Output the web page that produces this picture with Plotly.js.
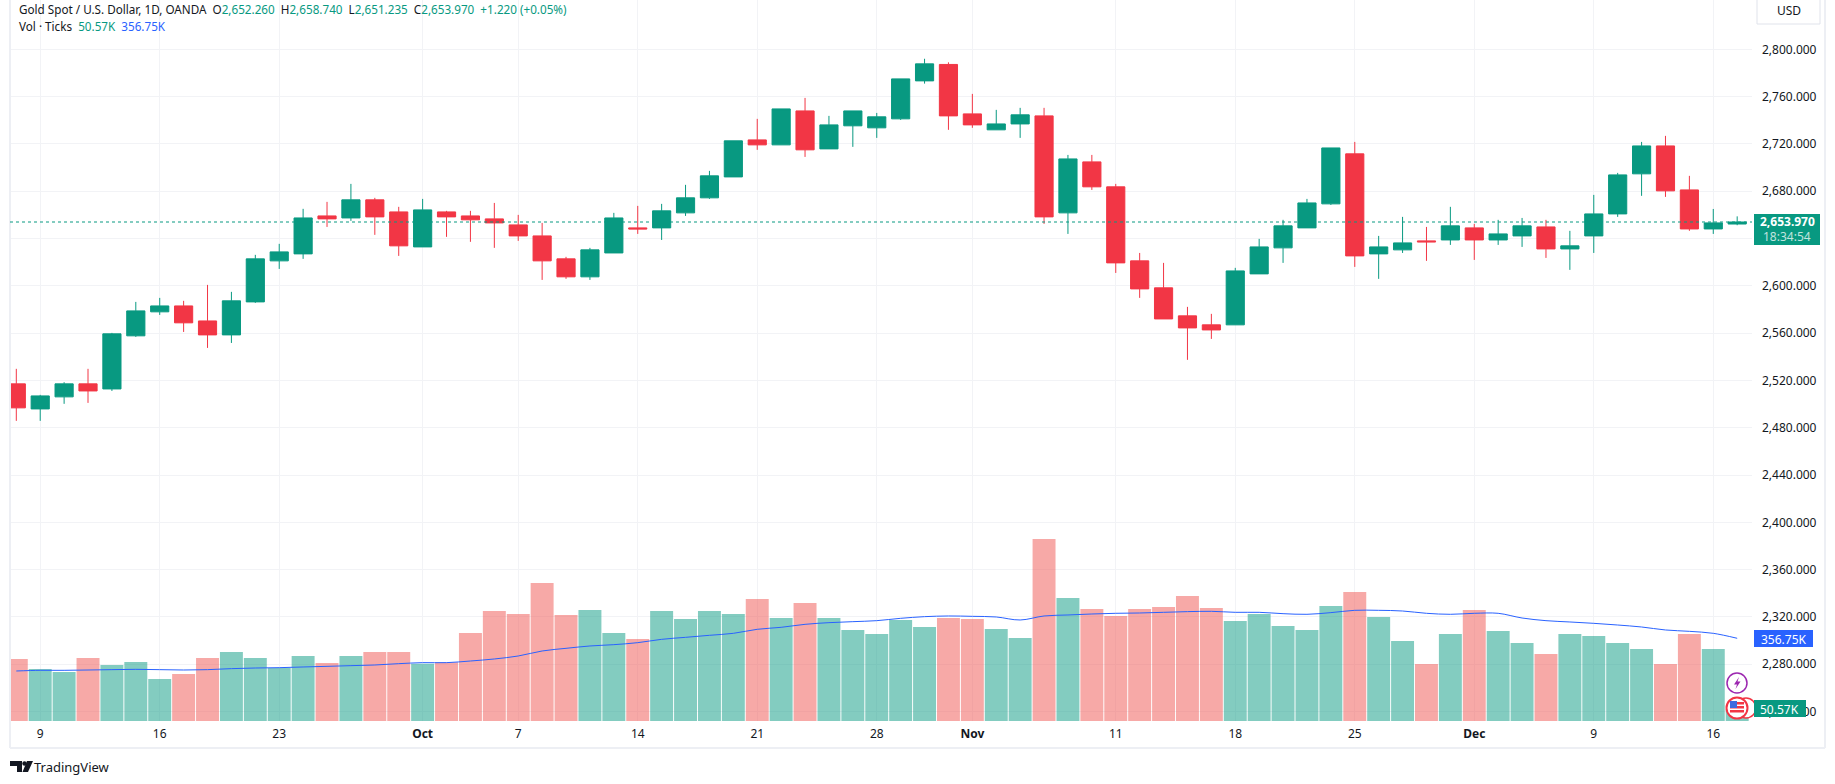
<!DOCTYPE html>
<html>
<head>
<meta charset="utf-8">
<script src="https://cdn.plot.ly/plotly-3.0.1.min.js"></script>
<style>
  html, body { margin: 0; padding: 0; background: #fff; }
  #chart { width: 1835px; height: 784px; }
</style>
</head>
<body>
<div id="chart"></div>
<script>
// trading days, 6 Sep to 17 Dec 2024
const days = [
  "09-06",
  "09-09","09-10","09-11","09-12","09-13",
  "09-16","09-17","09-18","09-19","09-20",
  "09-23","09-24","09-25","09-26","09-27",
  "09-30","10-01","10-02","10-03","10-04",
  "10-07","10-08","10-09","10-10","10-11",
  "10-14","10-15","10-16","10-17","10-18",
  "10-21","10-22","10-23","10-24","10-25",
  "10-28","10-29","10-30","10-31","11-01",
  "11-04","11-05","11-06","11-07","11-08",
  "11-11","11-12","11-13","11-14","11-15",
  "11-18","11-19","11-20","11-21","11-22",
  "11-25","11-26","11-27","11-28","11-29",
  "12-02","12-03","12-04","12-05","12-06",
  "12-09","12-10","12-11","12-12","12-13",
  "12-16","12-17"
];
const opens = [
  2517.1,2495.9,2506.1,2517.1,2512.8,2557.7,2578,2583,2570.3,2558.5,
  2586.4,2621.1,2627,2659.1,2657.4,2672.7,2662.5,2632.9,2662.5,2659.1,
  2656.6,2651.5,2642.2,2622.8,2607.6,2627.8,2649,2649,2661.7,2674.4,
  2692.1,2723.4,2719.2,2747.9,2715.8,2735.3,2733.6,2741.2,2773.3,2787.2,
  2745.4,2731.9,2736.9,2743.7,2661.7,2704.8,2683.7,2621.1,2598.3,2574.6,
  2567,2567,2610.1,2632.1,2649,2669.3,2711.6,2627,2630.4,2638,
  2638.8,2649,2638.8,2642.2,2649.8,2631.2,2642.2,2660.8,2694.7,2718.3,
  2681.1,2648.1,2652.26
];
const highs = [
  2529.8,2507.8,2518.5,2529.8,2560.2,2586.4,2589.8,2587.3,2600.8,2594.9,
  2626.2,2635.5,2665.1,2671,2686.2,2674.4,2666.8,2673.5,2663.4,2663.4,
  2670.1,2660,2653.2,2624.5,2632.1,2661.7,2667.6,2669.3,2685.4,2697.2,
  2722.6,2741.2,2749.6,2758.9,2743.7,2747.9,2746.2,2775,2792,2789,
  2762.3,2748.8,2750.5,2750.5,2710.7,2710.7,2686.2,2627.8,2619.4,2582.2,
  2576.3,2615.2,2639.7,2655.8,2673.5,2716.6,2721.7,2642.2,2658.3,2649.8,
  2666.8,2652.4,2655.8,2657.4,2655.8,2646.5,2676.9,2695.5,2721.7,2726.8,
  2693,2665,2658.74
];
const lows = [
  2485.8,2485.8,2500.2,2501,2511.1,2556.8,2575.4,2561,2547.5,2551.7,
  2585.6,2614.3,2622.8,2649.8,2654.9,2643.1,2625.3,2632.9,2641.4,2637.2,
  2632.1,2638,2605,2605.9,2605,2627.8,2643.9,2638.8,2659.1,2673.5,
  2692.1,2715,2719.2,2709,2715.8,2717.5,2725.1,2740.3,2771,2731.9,
  2733.6,2731.9,2725.1,2652.4,2643.9,2681.1,2610.9,2589.8,2572,2537.4,
  2555.1,2567,2610.1,2619.4,2649,2668.4,2616,2605.9,2627.8,2621.1,
  2634.6,2621.9,2634.6,2632.9,2623.6,2613.5,2627.8,2658.3,2676.1,2675.2,
  2646.5,2643.9,2651.235
];
const closes = [
  2496.8,2506.9,2517.1,2511.1,2559.4,2578.8,2583,2568.7,2558.5,2587.3,
  2622.8,2628.7,2657.4,2656.6,2672.7,2658.3,2633.8,2664.2,2658.3,2655.8,
  2653.2,2642.2,2621.1,2607.6,2630.4,2657.4,2648.1,2663.4,2674.4,2693,
  2722.6,2719.2,2749.6,2715,2736.1,2747.9,2742.9,2775,2787.7,2743.7,
  2736.1,2736.9,2744.6,2658.3,2707.3,2683.7,2619.4,2597.4,2572,2564.4,
  2562.7,2612.6,2632.9,2650.7,2670.1,2716.6,2625.3,2632.9,2636.3,2637.2,
  2650.7,2638.8,2643.9,2650.7,2631.2,2633.8,2660.8,2693.8,2718.3,2680.3,
  2648.1,2653.2,2653.97
];
// volume and its moving average, in thousands of ticks
const volumes = [
  267.5,224.3,211.4,271.8,241.6,254.5,181.2,202.8,271.8,297.7,
  271.8,228.6,280.4,250.2,280.4,297.7,297.7,247.3,253.1,379.6,
  474.5,461.6,595.3,457.3,478.9,379.6,353.7,474.5,440,474.5,
  461.6,526.3,444.3,509.1,444.3,392.6,375.3,435.7,405.5,444.3,
  440,396.9,358.1,785.1,530.6,483.2,453,483.2,491.8,539.3,
  487.5,431.4,461.6,409.8,392.6,496.1,556.5,448.7,345.1,245.9,
  375.3,478.9,388.3,336.5,289,375.3,366.7,336.5,310.6,245.9,
  375.3,310.6,50.57
];
const volumeMa = [
  215.7,218.6,218.6,220,221.5,222.9,221.5,220,221.5,225.8,
  228.6,230.1,233,235.8,238.7,241.6,247.3,251.7,251.7,258.8,
  267.5,280.4,302,313.5,323.6,329.3,337.9,352.3,360.9,369.6,
  378.2,395.5,404.1,417,424.2,428.5,432.8,442.9,450.1,453,
  451.5,448.7,435.7,453,457.3,461.6,464.5,465.9,468.8,471.7,
  473.1,468.8,468.8,463,460.2,467.4,477.4,477.4,474.5,464.5,
  460.2,464.5,464.5,444.3,432.8,427.1,421.3,414.1,405.5,392.6,
  386.8,378.2,356.75
];
const dateTicks = ["09-09","09-16","09-23","10-01","10-07","10-14","10-21","10-28","11-01","11-11","11-18","11-25","12-02","12-09","12-16"];
const dateLabels = ["9","16","23","<b>Oct</b>","7","14","21","28","<b>Nov</b>","11","18","25","<b>Dec</b>","9","16"];
const priceTicks = [2240,2280,2320,2360,2400,2440,2480,2520,2560,2600,2640,2680,2720,2760,2800];
// the 2,640 label sits behind the last price tag
const priceLabels = ["2,240.000","2,280.000","2,320.000","2,360.000","2,400.000","2,440.000","2,480.000","2,520.000","2,560.000","2,600.000","","2,680.000","2,720.000","2,760.000","2,800.000"];

const lastPrice = closes[closes.length - 1];
const GREEN = "#089981", RED = "#F23645", BLUE = "#2962FF", INK = "#131722", GRID = "#F2F3F6", FRAME = "#EDEFF4";
const FONT = "'Noto Sans', sans-serif";
const GAP = "\u00A0\u00A0";

// screen pixels to paper coordinates, plot box is 10..1752 x 0..721
function px(x) { return (x - 10) / 1742; }
function py(y) { return (721 - y) / 721; }

function box(x0, y0, x1, y1, fill, line) {
  return { type: "rect", xref: "paper", yref: "paper", x0: px(x0), x1: px(x1), y0: py(y0), y1: py(y1),
    fillcolor: fill, line: { color: line || fill, width: line ? 1 : 0 } };
}
function circle(cx, cy, r, fill, line, width) {
  return { type: "circle", xref: "paper", yref: "paper", x0: px(cx - r), x1: px(cx + r), y0: py(cy + r), y1: py(cy - r),
    fillcolor: fill, line: { color: line, width: width } };
}
function poly(points, fill) {
  let d = "";
  for (let i = 0; i < points.length; i++) {
    d += (i ? "L" : "M") + px(points[i][0]) + "," + py(points[i][1]);
  }
  return { type: "path", xref: "paper", yref: "paper", path: d + "Z", fillcolor: fill, line: { width: 0 } };
}
function label(x, y, text, size, color, anchor) {
  return { xref: "paper", yref: "paper", x: px(x), y: py(y), text: text, showarrow: false,
    xanchor: anchor || "left", yanchor: "middle", align: anchor || "left",
    font: { family: FONT, size: size, color: color }, borderpad: 0 };
}
function tint(color, text) { return '<span style="color:' + color + '">' + text + "</span>"; }

const volumeColors = closes.map((c, i) => (c >= opens[i] ? "rgba(8,153,129,0.5)" : "rgba(239,83,80,0.5)"));

const traces = [
  { type: "bar", x: days, y: volumes, yaxis: "y2", marker: { color: volumeColors, line: { width: 0 } }, hoverinfo: "skip" },
  { type: "scatter", mode: "lines", x: days, y: volumeMa, yaxis: "y2", line: { color: BLUE, width: 1, shape: "spline" }, hoverinfo: "skip" },
  { type: "candlestick", x: days, open: opens, high: highs, low: lows, close: closes, whiskerwidth: 0,
    increasing: { line: { color: GREEN, width: 1 }, fillcolor: GREEN },
    decreasing: { line: { color: RED, width: 1 }, fillcolor: RED } }
];

const shapes = [
  // frame round the panes
  { type: "line", xref: "paper", yref: "paper", x0: px(10), x1: px(10), y0: py(748), y1: 1, line: { color: FRAME, width: 2 } },
  { type: "line", xref: "paper", yref: "paper", x0: px(10), x1: px(1825), y0: py(748), y1: py(748), line: { color: FRAME, width: 2 } },
  { type: "line", xref: "paper", yref: "paper", x0: px(1825), x1: px(1825), y0: py(748), y1: 1, line: { color: FRAME, width: 2 } },
  // last price line
  { type: "line", xref: "paper", yref: "y", x0: 0, x1: 1, y0: lastPrice, y1: lastPrice, line: { color: GREEN, width: 1, dash: "dot" } },
  // USD button
  box(1757, -3, 1820, 24, "#FFFFFF", "#E0E3EB"),
  // lightning event icon
  circle(1737, 683, 10, "#FFFFFF", "#9C27B0", 1.5),
  poly([[1739, 677], [1734, 684.5], [1737, 684.5], [1735.5, 689], [1740.5, 681.5], [1737.5, 681.5]], "#9C27B0"),
  // flag event icons
  circle(1746, 708, 10, "#FFFFFF", "#F23645", 1.5),
  circle(1737, 708, 10.5, "#FFFFFF", "#F23645", 2),
  box(1730, 702, 1744, 704.5, "#F23645"),
  box(1730, 706, 1744, 708.5, "#F23645"),
  box(1730, 710, 1744, 712.5, "#F23645"),
  box(1730, 701, 1737, 708, "#3D6BE0"),
  // axis tags
  box(1754, 214, 1820, 245, GREEN),
  box(1754, 630, 1813, 647, BLUE),
  box(1754, 700, 1806, 717, GREEN),
  // TradingView logo
  poly([[10, 761], [22, 761], [22, 772], [17, 772], [17, 766], [10, 766]], INK),
  circle(24.5, 763.5, 2.2, INK, INK, 0),
  poly([[27, 761], [33, 761], [28, 772], [22.5, 772]], INK)
];

const annotations = [
  label(18, 9,
    tint(INK, "Gold Spot / U.S. Dollar, 1D, OANDA" + GAP + "O") + tint(GREEN, "2,652.260") +
    tint(INK, GAP + "H") + tint(GREEN, "2,658.740") + tint(INK, GAP + "L") + tint(GREEN, "2,651.235") +
    tint(INK, GAP + "C") + tint(GREEN, "2,653.970") + tint(GREEN, GAP + "+1.220 (+0.05%)"), 11.7, INK),
  label(18, 26, tint(INK, "Vol · Ticks" + GAP) + tint(GREEN, "50.57K") + GAP + tint(BLUE, "356.75K"), 11.7, INK),
  label(1788.5, 11, "USD", 12, INK, "center"),
  label(1787, 222, "<b>2,653.970</b>", 12, "#FFFFFF", "center"),
  label(1787, 237, "18:34:54", 12, "rgba(255,255,255,0.75)", "center"),
  label(1783.5, 639, "356.75K", 12, "#FFFFFF", "center"),
  label(1780, 709, "50.57K", 12, "#FFFFFF", "center"),
  label(33, 767, "TradingView", 13, INK)
];

const layout = {
  width: 1835,
  height: 784,
  margin: { l: 10, r: 83, t: 0, b: 63, pad: 0 },
  paper_bgcolor: "#FFFFFF",
  plot_bgcolor: "#FFFFFF",
  showlegend: false,
  bargap: 0.04,
  boxgap: 0.24,
  boxgroupgap: 0,
  font: { family: FONT, size: 12, color: INK },
  xaxis: {
    type: "category", range: [-0.264, 72.62], fixedrange: true,
    rangeslider: { visible: false },
    tickmode: "array", tickvals: dateTicks, ticktext: dateLabels, ticks: "",
    ticklabelstandoff: 4, tickangle: 0,
    showgrid: true, gridcolor: GRID, gridwidth: 1, zeroline: false, showline: false,
    tickfont: { family: FONT, size: 12, color: INK }
  },
  yaxis: {
    side: "right", range: [2232, 2841.7], fixedrange: true,
    tickmode: "array", tickvals: priceTicks, ticktext: priceLabels, ticks: "",
    ticklabelstandoff: 9,
    showgrid: true, gridcolor: GRID, gridwidth: 1, zeroline: false, showline: false,
    tickfont: { family: FONT, size: 12, color: INK }
  },
  yaxis2: {
    overlaying: "y", side: "right", range: [0, 3110], fixedrange: true,
    showgrid: false, showticklabels: false, ticks: "", zeroline: false, showline: false
  },
  shapes: shapes,
  annotations: annotations
};

Plotly.newPlot("chart", traces, layout, { displayModeBar: false, staticPlot: true });
</script>
</body>
</html>
